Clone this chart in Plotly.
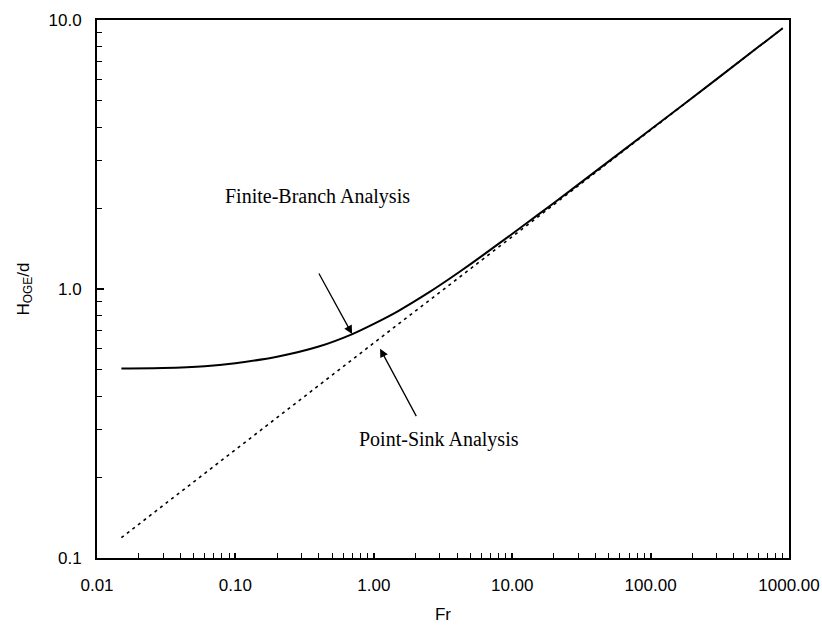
import numpy as np
import plotly.graph_objects as go

# Froude number and dimensionless height values for the two analyses
fr_finite = [0.015, 0.03, 0.06, 0.1, 0.2, 0.4, 0.7, 1.0, 1.5, 2.5, 3.5, 5.0, 8.0,
             12.0, 20.0, 40.0, 100.0, 300.0, 900.0]
h_finite = [0.506, 0.508, 0.516, 0.53, 0.560, 0.611, 0.680, 0.742, 0.828, 0.971, 1.089,
            1.238, 1.474, 1.718, 2.089, 2.736, 3.915, 6.03, 9.32]

fr_sink = [0.015, 0.1, 1.0, 10.0, 100.0, 900.0]
h_sink = [0.119, 0.253, 0.630, 1.565, 3.896, 9.32]

x_tickvals = [0.01, 0.1, 1, 10, 100, 1000]
x_ticktext = ["0.01", "0.10", "1.00", "10.00", "100.00", "1000.00"]
y_tickvals = [0.1, 1, 10]
y_ticktext = ["0.1", "1.0", "10.0"]

# minor ticks at 2..9 within each decade
x_minor = [m * 10.0 ** e for e in range(-2, 3) for m in range(2, 10)]
y_minor = [m * 10.0 ** e for e in range(-1, 1) for m in range(2, 10)]

fig = go.Figure()
fig.add_trace(go.Scatter(x=fr_sink, y=h_sink, mode="lines",
                         line=dict(color="black", width=1.6, dash="3px,4px"),
                         showlegend=False))
fig.add_trace(go.Scatter(x=fr_finite, y=h_finite, mode="lines",
                         line=dict(color="black", width=2, shape="spline", smoothing=0.6),
                         showlegend=False))

serif = dict(family="Liberation Serif", size=20, color="black")

# labels and arrows (log axes take log10 positions)
fig.add_annotation(x=np.log10(0.697), y=np.log10(0.68), xref="x", yref="y",
                   ax=-34, ay=-62, axref="pixel", ayref="pixel",
                   showarrow=True, arrowhead=2, arrowsize=1.3, arrowwidth=1.3,
                   arrowcolor="black", text="")
fig.add_annotation(x=np.log10(1.11), y=np.log10(0.60), xref="x", yref="y",
                   ax=37, ay=69, axref="pixel", ayref="pixel",
                   showarrow=True, arrowhead=2, arrowsize=1.3, arrowwidth=1.3,
                   arrowcolor="black", text="")
fig.add_annotation(x=np.log10(0.39), y=np.log10(2.2), xref="x", yref="y",
                   text="Finite-Branch Analysis", showarrow=False, font=serif)
fig.add_annotation(x=np.log10(2.95), y=np.log10(0.275), xref="x", yref="y",
                   text="Point-Sink Analysis", showarrow=False, font=serif)

sans = dict(family="Liberation Sans", size=17, color="black")

fig.update_xaxes(type="log", range=[-2, 3], tickvals=x_tickvals, ticktext=x_ticktext,
                 ticks="inside", ticklen=5, tickwidth=1.5, tickcolor="black",
                 ticklabelstandoff=11, automargin=False,
                 minor=dict(tickmode="array", tickvals=x_minor, ticks="inside",
                            ticklen=5, tickwidth=1.2, tickcolor="black", showgrid=False),
                 showline=True, linecolor="black", linewidth=2, mirror=True,
                 showgrid=False, zeroline=False, tickfont=sans,
                 title=dict(text="Fr", font=sans, standoff=14))
fig.update_yaxes(type="log", range=[-1, 1], tickvals=y_tickvals, ticktext=y_ticktext,
                 ticks="inside", ticklen=7, tickwidth=1.5, tickcolor="black",
                 ticklabelstandoff=10, automargin=False,
                 minor=dict(tickmode="array", tickvals=y_minor, ticks="inside",
                            ticklen=5, tickwidth=1.2, tickcolor="black", showgrid=False),
                 showline=True, linecolor="black", linewidth=2, mirror=True,
                 showgrid=False, zeroline=False, tickfont=sans,
                 title=dict(text="H<sub>OGE</sub>/d", font=sans, standoff=15))

fig.update_layout(width=822, height=628, margin=dict(l=97, r=33, t=20, b=70),
                  plot_bgcolor="white", paper_bgcolor="white")

fig.write_html("out.html")
